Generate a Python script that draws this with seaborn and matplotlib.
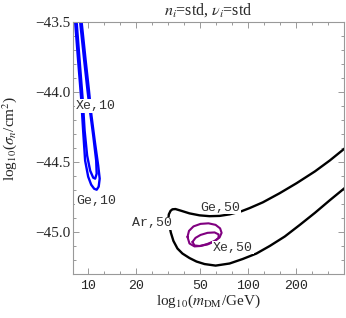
import numpy as np
import pandas as pd
import seaborn as sns
import matplotlib
matplotlib.use("Agg")
from matplotlib import pyplot as plt
from matplotlib.ticker import FixedLocator, NullFormatter

# contour outlines: (m_DM [GeV], log10 sigma_n)
xe10_outer_m = [8.07, 8.25, 8.61, 9.00, 9.26, 9.53, 9.96, 10.40, 10.86, 11.26, 11.59, 11.76,
                11.51, 10.94, 10.44, 10.07, 9.60, 9.06, 8.87, 8.07]
xe10_outer_s = [-43.342, -43.5, -43.773, -44.045, -44.275, -44.490, -44.605, -44.662, -44.691, -44.698,
                -44.676, -44.619, -44.526, -44.346, -44.167, -43.988, -43.773, -43.5, -43.342, -43.342]
xe10_inner_m = [8.25, 8.43, 8.80, 9.19, 9.46, 9.81, 10.25, 10.71, 11.02, 11.26, 11.18,
                10.71, 10.25, 9.86, 9.40, 8.87, 8.68, 8.25]
xe10_inner_s = [-43.342, -43.5, -43.773, -44.045, -44.275, -44.454, -44.562, -44.612, -44.619, -44.583,
                -44.490, -44.311, -44.146, -43.988, -43.773, -43.5, -43.342, -43.342]

ar50_m = [449, 400, 326, 263, 202, 158, 124, 102.5, 90.9, 76.7, 66.4, 57.4, 49.7, 43.0, 38.3, 35.1,
          33.6, 32.7, 31.9, 31.7, 32.17, 32.88, 34.10, 36.14, 38.85, 43.0, 47.57, 53.43, 62.7, 76.7,
          92.6, 112.9, 136.9, 170.2, 211.5, 263, 326, 406, 449]
ar50_s = [-44.361, -44.407, -44.489, -44.567, -44.651, -44.723, -44.788, -44.829, -44.852, -44.874,
          -44.885, -44.887, -44.881, -44.867, -44.849, -44.836, -44.838, -44.849, -44.874, -44.906,
          -44.956, -45.006, -45.064, -45.118, -45.154, -45.186, -45.211, -45.229, -45.240, -45.225,
          -45.193, -45.154, -45.100, -45.032, -44.949, -44.863, -44.773, -44.684, -44.641]

xe50_outer_m = [41.77, 42.68, 45.55, 50.41, 56.58, 62.65, 66.88, 68.35, 66.37, 61.75, 55.77,
                50.41, 46.21, 42.98, 41.77]
xe50_outer_s = [-45.035, -44.992, -44.960, -44.942, -44.938, -44.949, -44.974, -45.006, -45.039,
                -45.064, -45.085, -45.100, -45.103, -45.082, -45.035]
xe50_inner_m = [44.89, 46.89, 50.41, 55.77, 61.75, 65.42, 65.42, 61.75, 55.77, 49.68, 46.21, 44.89]
xe50_inner_s = [-45.071, -45.042, -45.021, -45.006, -45.003, -45.017, -45.042, -45.067, -45.089,
                -45.100, -45.096, -45.071]

labels = ["Xe,10", "Ge,10", "Ar,50", "Ge,50", "Xe,50"]
label_m = [11.13, 11.13, 25.15, 66.67, 80.5]
label_s = [-44.099, -44.781, -44.938, -44.827, -45.112]

x_ticks = [10, 20, 50, 100, 200]
y_ticks = [-45.0, -44.5, -44.0, -43.5]

sns.set_theme(style="ticks")
plt.rcParams['font.family'] = ['Liberation Serif', 'DejaVu Serif']
plt.rcParams['mathtext.fontset'] = 'stix'

fig = plt.figure(figsize=(3.46, 3.18), dpi=100)
ax = fig.add_axes([73/346, 44/318, 271/346, 252/318])

curves = [(xe10_outer_m, xe10_outer_s, 'blue', 1.7),
          (xe10_inner_m, xe10_inner_s, 'blue', 1.7),
          (ar50_m, ar50_s, 'black', 1.7),
          (xe50_outer_m, xe50_outer_s, '#800080', 1.5),
          (xe50_inner_m, xe50_inner_s, '#800080', 1.5)]
for m, s, c, lw in curves:
    df = pd.DataFrame({'m': m, 's': s})
    sns.lineplot(data=df, x='m', y='s', sort=False, estimator=None, color=c, lw=lw, ax=ax)

for t, m, s in zip(labels, label_m, label_s):
    ax.text(m, s, t, ha='center', va='center', fontsize=9.5, family='Liberation Mono', color='#333333',
            bbox=dict(facecolor='white', edgecolor='none', pad=0.5), zorder=5)

ax.set_xscale('log')
ax.set_xlim(8, 400)
ax.set_ylim(-45.3, -43.5)
ax.xaxis.set_major_locator(FixedLocator(x_ticks))
ax.set_xticklabels([str(v) for v in x_ticks], family='Liberation Mono', fontsize=9.5)
minors = [10**(k/10) for k in range(9, 27) if k not in (10, 13, 17, 20, 23)]
ax.xaxis.set_minor_locator(FixedLocator(minors))
ax.xaxis.set_minor_formatter(NullFormatter())
ax.yaxis.set_major_locator(FixedLocator(y_ticks))
ax.set_yticklabels(['\u221245.0', '\u221244.5', '\u221244.0', '\u221243.5'], fontsize=11)
ax.yaxis.set_minor_locator(FixedLocator(np.arange(-45.3, -43.45, 0.1)))

for sp in ax.spines.values():
    sp.set_color('#999999')
    sp.set_linewidth(0.8)
ax.tick_params(which='both', direction='in', top=True, right=True, color='#999999', width=0.7)
ax.tick_params(which='major', length=4.5)
ax.tick_params(which='minor', length=2.5)
ax.tick_params(axis='x', pad=4)
ax.tick_params(axis='y', pad=2)

ax.set_xlabel(r'log$_{10}$($m_{\rm DM}$/GeV)', fontsize=11, labelpad=1)
ax.set_ylabel(r'log$_{10}$($\sigma_n$/cm$^2$)', fontsize=11, labelpad=2)
ax.yaxis.set_label_coords(-0.2, 0.54)
ax.set_title(r'$n_i$=std, $\nu_i$=std', fontsize=11.5, pad=5)

fig.savefig('out.png', dpi=100)
